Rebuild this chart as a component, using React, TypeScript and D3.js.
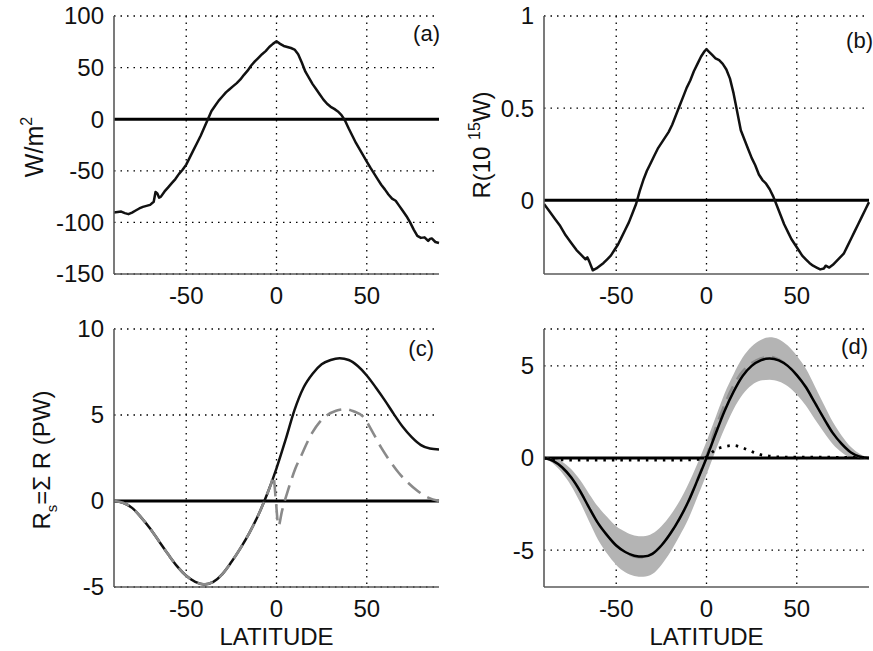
import React from 'react';
import * as d3 from 'd3';

// ---------- DATA ----------
const latA = [-90,-88,-86,-84,-82,-80,-78,-76,-74,-72,-70,-68,-67,-66,-65,-64,-62,-60,-58,-56,-54,-52,-50,-48,-46,-44,-42,-40,-38,-36,-34,-32,-30,-28,-26,-24,-22,-20,-18,-16,-14,-12,-10,-8,-6,-4,-2,0,2,4,6,8,10,12,14,16,18,20,22,24,26,28,30,32,34,36,38,40,42,44,46,48,50,52,54,56,58,60,62,64,66,68,70,72,74,76,78,80,82,84,85,86,88,90];
const valA = [-90.5,-90,-89.5,-91,-92,-90.5,-88.5,-86.5,-85,-84,-83,-80,-70.5,-72,-76,-75,-70,-66,-62,-58,-53,-49,-44,-37,-30,-23,-16,-8,0,8,13,18,22,26,29,32,35,38.5,43,47,52,56,59.5,63,66,70,73,75.5,73,71,70,69,67.5,63,55,46,40,34,29,24,19,15,12,10,7.5,4,-1.5,-9,-16,-23,-29,-35,-41,-47,-52.5,-58,-63.5,-68,-73,-77,-79,-84,-89,-94,-100,-107,-113,-115,-114.5,-118,-116,-115.5,-119,-120];

const latB = [-90,-87,-84,-81,-78,-75,-72,-69,-67,-66,-65,-63,-61,-59,-57,-55,-53,-51,-49,-47,-45,-43,-41,-39,-37,-35,-33,-31,-29,-27,-25,-23,-21,-19,-17,-15,-13,-11,-9,-7,-5,-3,-1,0,1,3,5,7,9,11,13,15,17,19,21,23,25,27,29,31,33,35,37,39,41,43,45,47,49,51,53,55,57,59,61,63,65,66,67,68,70,72,74,76,78,80,82,84,86,88,90];
const valB = [-0.02,-0.06,-0.10,-0.14,-0.19,-0.23,-0.27,-0.30,-0.32,-0.31,-0.33,-0.38,-0.37,-0.355,-0.34,-0.32,-0.30,-0.27,-0.24,-0.20,-0.16,-0.12,-0.07,-0.02,0.05,0.11,0.16,0.20,0.24,0.28,0.31,0.34,0.37,0.41,0.46,0.51,0.56,0.61,0.65,0.70,0.74,0.78,0.81,0.82,0.81,0.79,0.77,0.76,0.74,0.71,0.66,0.58,0.48,0.38,0.33,0.28,0.23,0.19,0.14,0.11,0.09,0.06,0.02,-0.03,-0.08,-0.13,-0.17,-0.21,-0.24,-0.27,-0.30,-0.32,-0.34,-0.355,-0.365,-0.375,-0.37,-0.355,-0.36,-0.365,-0.35,-0.33,-0.31,-0.29,-0.25,-0.21,-0.17,-0.13,-0.09,-0.05,-0.01];

const latC = [-90,-85,-80,-75,-70,-65,-60,-55,-50,-45,-40,-35,-30,-25,-20,-15,-10,-5,0,5,10,15,20,25,30,35,40,45,50,55,60,65,70,75,80,85,90];
const valCtotal = [0,-0.1,-0.4,-0.95,-1.6,-2.35,-3.1,-3.8,-4.35,-4.7,-4.85,-4.7,-4.25,-3.55,-2.75,-1.85,-0.8,0.45,1.9,3.55,5.3,6.6,7.4,7.95,8.2,8.3,8.2,7.85,7.3,6.6,5.85,5.05,4.3,3.7,3.25,3.05,3.0];

const latCdash = [-90,-85,-80,-75,-70,-65,-60,-55,-50,-45,-40,-35,-30,-25,-20,-15,-10,-5,-3,-1.7,-0.5,1.1,3,6.6,10.5,14,17,20,24,27.5,33,38.5,43,48,53,58,63,68,73,78,84,90];
const valCdash = [0,-0.1,-0.4,-0.95,-1.6,-2.35,-3.1,-3.8,-4.35,-4.7,-4.85,-4.7,-4.25,-3.55,-2.75,-1.85,-0.8,0.45,1.0,1.45,0.2,-1.45,-0.6,0.7,1.9,2.7,3.4,4.0,4.6,4.95,5.25,5.34,5.2,4.9,4.05,3.1,2.3,1.6,1.05,0.6,0.2,0];

const latD = [-90,-85,-80,-75,-70,-65,-60,-55,-50,-45,-40,-35,-30,-25,-20,-15,-10,-5,0,5,10,15,20,25,30,35,40,45,50,55,60,65,70,75,80,85,90];
const valDmean = [0,-0.15,-0.5,-1.05,-1.8,-2.7,-3.55,-4.2,-4.75,-5.1,-5.3,-5.35,-5.2,-4.75,-4.1,-3.3,-2.35,-1.2,0,1.3,2.55,3.6,4.45,5.0,5.3,5.4,5.3,5.0,4.5,3.85,3.0,2.15,1.35,0.75,0.3,0.07,0];
const valDspread = [0,0.15,0.3,0.45,0.6,0.75,0.9,1.0,1.05,1.1,1.1,1.1,1.1,1.05,1.0,0.95,0.95,0.9,0.9,0.9,0.95,0.95,1.0,1.05,1.1,1.15,1.15,1.1,1.05,1.0,0.9,0.75,0.6,0.45,0.3,0.15,0];
const valDdash = [0,-0.15,-0.5,-1.05,-1.8,-2.7,-3.55,-4.2,-4.75,-5.1,-5.35,-5.4,-5.2,-4.75,-4.1,-3.3,-2.35,-1.15,0.1,1.6,2.9,3.95,4.7,5.15,5.4,5.5,5.35,5.0,4.5,3.85,3.0,2.15,1.35,0.75,0.3,0.07,0];
const valDdot = [0,-0.08,-0.1,-0.12,-0.12,-0.12,-0.12,-0.12,-0.12,-0.12,-0.12,-0.12,-0.12,-0.12,-0.12,-0.12,-0.1,-0.08,0.05,0.45,0.62,0.68,0.55,0.35,0.18,0.1,0.06,0.05,0.04,0.04,0.04,0.04,0.04,0.03,0.03,0.03,0.03];

const xTicks = [-50, 0, 50];
const yTicksA = [-150, -100, -50, 0, 50, 100];
const yTicksB = [0, 0.5, 1];
const yTicksC = [-5, 0, 5, 10];
const yTicksD = [-5, 0, 5];

// ---------- LAYOUT ----------
const FONT = '"Liberation Sans", Arial, sans-serif';

type Series = {
  lat: number[];
  val: number[];
  stroke: string;
  width: number;
  dash?: string;
  smooth?: boolean;
};

type PanelProps = {
  id: string;
  left: number;
  right: number;
  top: number;
  bottom: number;
  yDomain: [number, number];
  yTicks: number[];
  tag: string;
  tagX: number;
  tagY: number;
  series: Series[];
  band?: { lat: number[]; mid: number[]; half: number[] };
  xlabel?: boolean;
};

function Panel(p: PanelProps) {
  const x = d3.scaleLinear().domain([-90, 90]).range([p.left, p.right]);
  const y = d3.scaleLinear().domain(p.yDomain).range([p.bottom, p.top]);
  const clipId = 'clip-' + p.id;
  const gridY = Array.from(new Set([...p.yTicks, p.yDomain[1]]));

  let bandPath: string | null = null;
  if (p.band) {
    const b = p.band;
    const idx = d3.range(b.lat.length);
    const area = d3
      .area<number>()
      .x((i) => x(b.lat[i]))
      .y0((i) => y(b.mid[i] - b.half[i]))
      .y1((i) => y(b.mid[i] + b.half[i]))
      .curve(d3.curveMonotoneX);
    bandPath = area(idx);
  }

  return (
    <g>
      <defs>
        <clipPath id={clipId}>
          <rect x={p.left} y={p.top - 2} width={p.right - p.left + 2} height={p.bottom - p.top + 4} />
        </clipPath>
      </defs>
      {/* grid */}
      {gridY.map((t) => (
        <line key={'gy' + t} x1={p.left} x2={p.right} y1={y(t)} y2={y(t)} stroke="#000" strokeWidth={1.3} strokeDasharray="1.5,5" />
      ))}
      {xTicks.map((t) => (
        <line key={'gx' + t} x1={x(t)} x2={x(t)} y1={p.top} y2={p.bottom} stroke="#000" strokeWidth={1.3} strokeDasharray="1.5,5" />
      ))}
      <g clipPath={`url(#${clipId})`}>
        {bandPath && <path d={bandPath} fill="#b4b4b4" stroke="none" />}
        {/* zero line */}
        <line x1={p.left} x2={p.right} y1={y(0)} y2={y(0)} stroke="#000" strokeWidth={3} />
        {p.series.map((s, k) => {
          const idx = d3.range(s.lat.length);
          const line = d3
            .line<number>()
            .x((i) => x(s.lat[i]))
            .y((i) => y(s.val[i]))
            .curve(s.smooth ? d3.curveMonotoneX : d3.curveLinear);
          return (
            <path key={k} d={line(idx) || ''} fill="none" stroke={s.stroke} strokeWidth={s.width} strokeDasharray={s.dash} strokeLinejoin="round" />
          );
        })}
      </g>
      {/* axes */}
      <line x1={p.left} x2={p.left} y1={p.top} y2={p.bottom} stroke="#5a5a5a" strokeWidth={1.6} />
      <line x1={p.left} x2={p.right} y1={p.bottom} y2={p.bottom} stroke="#5a5a5a" strokeWidth={1.6} />
      {/* tick labels */}
      {p.yTicks.map((t) => (
        <text key={'ty' + t} x={p.left - 10} y={y(t)} dy="0.35em" textAnchor="end" fontFamily={FONT} fontSize={24} fill="#111">
          {String(t)}
        </text>
      ))}
      {xTicks.map((t) => (
        <text key={'tx' + t} x={x(t)} y={p.bottom + 30} textAnchor="middle" fontFamily={FONT} fontSize={24} fill="#111">
          {String(t)}
        </text>
      ))}
      {p.xlabel && (
        <text x={(p.left + p.right) / 2} y={645} textAnchor="middle" fontFamily={FONT} fontSize={24} fill="#111">
          LATITUDE
        </text>
      )}
      <text x={p.tagX} y={p.tagY} textAnchor="end" fontFamily={FONT} fontSize={22} fill="#111">
        {p.tag}
      </text>
    </g>
  );
}

export default function App() {
  return (
    <svg width={873} height={651} style={{ position: 'absolute', left: 0, top: 0, background: '#fff' }}>
      <rect x={0} y={0} width={873} height={651} fill="#fff" />
      <Panel
        id="a" left={114} right={439} top={16} bottom={274}
        yDomain={[-150, 100]} yTicks={yTicksA} tag="(a)" tagX={440} tagY={41}
        series={[{ lat: latA, val: valA, stroke: '#111', width: 2.5 }]}
      />
      <Panel
        id="b" left={544} right={869} top={16} bottom={274}
        yDomain={[-0.4, 1]} yTicks={yTicksB} tag="(b)" tagX={873} tagY={48}
        series={[{ lat: latB, val: valB, stroke: '#111', width: 2.5 }]}
      />
      <Panel
        id="c" left={114} right={439} top={329} bottom={587}
        yDomain={[-5, 10]} yTicks={yTicksC} tag="(c)" tagX={434} tagY={356} xlabel
        series={[
          { lat: latC, val: valCtotal, stroke: '#111', width: 2.5, smooth: true },
          { lat: latCdash, val: valCdash, stroke: '#8a8a8a', width: 2.6, dash: '16,8', smooth: true },
        ]}
      />
      <Panel
        id="d" left={544} right={869} top={329} bottom={587}
        yDomain={[-7, 7]} yTicks={yTicksD} tag="(d)" tagX={868} tagY={354} xlabel
        band={{ lat: latD, mid: valDmean, half: valDspread }}
        series={[
          { lat: latD, val: valDdash, stroke: '#8c8c8c', width: 2.5, dash: '14,8', smooth: true },
          { lat: latD, val: valDmean, stroke: '#000', width: 2.5, smooth: true },
          { lat: latD, val: valDdot, stroke: '#000', width: 2.8, dash: '2.5,6', smooth: true },
        ]}
      />
      {/* y-axis labels */}
      <text transform="translate(43,147) rotate(-90)" textAnchor="middle" fontFamily={FONT} fontSize={25} fill="#111">
        W/m<tspan dy={-11} fontSize={16}>2</tspan>
      </text>
      <text transform="translate(490,145) rotate(-90)" textAnchor="middle" fontFamily={FONT} fontSize={24} fill="#111">
        R(10 <tspan dy={-10} fontSize={16}>15</tspan><tspan dy={10}>W)</tspan>
      </text>
      <text transform="translate(50,460) rotate(-90)" textAnchor="middle" fontFamily={FONT} fontSize={24} fill="#111">
        R<tspan dy={7} fontSize={15}>s</tspan><tspan dy={-7}>=Σ R (PW)</tspan>
      </text>
    </svg>
  );
}
